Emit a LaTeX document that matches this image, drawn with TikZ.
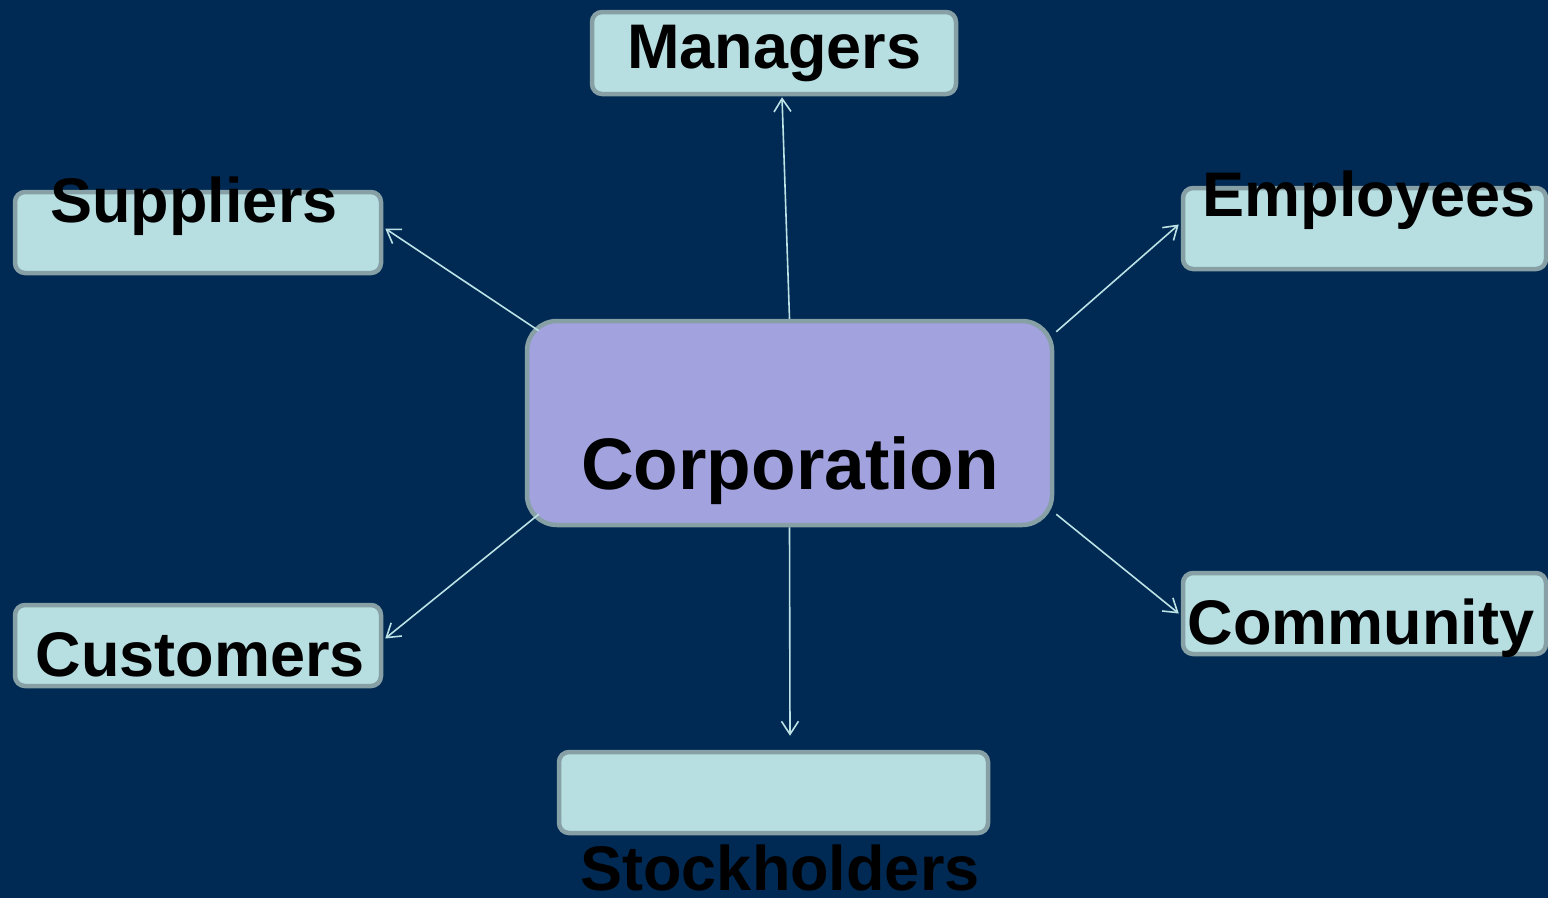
\documentclass[tikz,border=0pt]{standalone}
\usepackage{fontspec}
\setmainfont{Liberation Sans}
\usetikzlibrary{arrows.meta}
\definecolor{bgnavy}{HTML}{002A53}
\definecolor{boxfill}{HTML}{B7DEE1}
\definecolor{boxline}{HTML}{86A0A5}
\definecolor{corpfill}{HTML}{A2A2DE}
\definecolor{arrowcol}{HTML}{BCE2E5}
\tikzset{
  stakebox/.style={draw=boxline, fill=boxfill, line width=4.5pt, rounded corners=10pt,
    inner sep=0pt, minimum height=81pt},
  corpbox/.style={draw=boxline, fill=corpfill, line width=4.5pt, rounded corners=30pt,
    inner sep=0pt, minimum width=525pt, minimum height=204pt},
  lbl/.style={inner sep=0pt, anchor=base, text=black, font=\fontsize{63}{70}\selectfont\bfseries},
  biglbl/.style={inner sep=0pt, anchor=base, text=black, font=\fontsize{73}{80}\selectfont\bfseries},
  link/.style={draw=arrowcol, line width=1.6pt, -{Straight Barb[length=13pt,width=17pt,line width=1.6pt]}}
}
\begin{document}
\begin{tikzpicture}[x=1pt,y=-1pt]
\useasboundingbox (0,0) rectangle (1548,898);
\fill[bgnavy] (0,0) rectangle (1548,898);
% boxes
\node[stakebox, minimum width=364pt, minimum height=82pt] (mgr) at (774,53) {};
\node[stakebox, minimum width=366pt] (sup) at (198,232.5) {};
\node[stakebox, minimum width=363pt] (emp) at (1364.5,228.5) {};
\node[stakebox, minimum width=363pt] (com) at (1364.5,613.5) {};
\node[stakebox, minimum width=366pt] (cus) at (198,645.5) {};
\node[stakebox, minimum width=429pt] (stk) at (773.5,792.5) {};
\node[corpbox] (corp) at (789.5,423) {};
% labels
\node[lbl] (mgrt) at (774.5,68) {Managers};
\node[lbl] (supt) at (194,222) {Suppliers};
\node[lbl] (empt) at (1369,216) {Employees};
\node[lbl] (comt) at (1361,644) {Community};
\node[lbl] (cust) at (200.5,676) {Customers};
\node[lbl] (stkt) at (780,890) {Stockholders};
\node[biglbl] (corpt) at (790,489) {Corporation};
% connectors
\draw[link] (corp.north) -- ([xshift=8pt,yshift=-1pt]mgr.south);
\draw[link] ([xshift=14pt,yshift=-12pt]corp.north west) -- ([xshift=2pt,yshift=4pt]sup.east);
\draw[link] ([xshift=2pt,yshift=-13pt]corp.north east) -- ([xshift=-2pt,yshift=4pt]emp.west);
\draw[link] ([xshift=14pt,yshift=13pt]corp.south west) -- ([xshift=2pt,yshift=7pt]cus.east);
\draw[link] ([xshift=2pt,yshift=13pt]corp.south east) -- ([xshift=-2pt]com.west);
\draw[link] (corp.south) -- ([xshift=16.5pt,yshift=14pt]stk.north);
\end{tikzpicture}
\end{document}
